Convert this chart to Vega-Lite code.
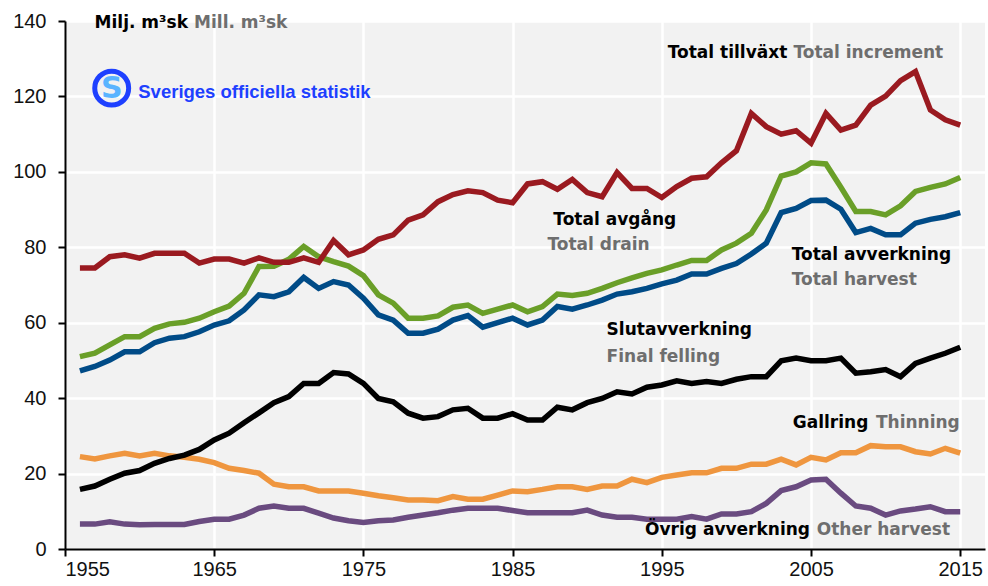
{
  "$schema": "https://vega.github.io/schema/vega-lite/v6.json",
  "width": 920,
  "height": 528,
  "autosize": {"type": "none"},
  "padding": {"left": 65, "top": 21, "right": 3, "bottom": 37},
  "background": "white",
  "config": {"view": {"fill": "#f2f2f2", "stroke": null}, "font": "Liberation Sans"},
  "datasets": {
    "series": [
      {"year":1956,"inc":74.5,"drain":51.0,"harv":47.2,"final":15.8,"thin":24.5,"other":6.6},
      {"year":1957,"inc":74.5,"drain":51.9,"harv":48.4,"final":16.7,"thin":23.9,"other":6.6},
      {"year":1958,"inc":77.5,"drain":54.1,"harv":50.1,"final":18.5,"thin":24.7,"other":7.2},
      {"year":1959,"inc":78.0,"drain":56.3,"harv":52.3,"final":20.1,"thin":25.4,"other":6.6},
      {"year":1960,"inc":77.1,"drain":56.3,"harv":52.3,"final":20.8,"thin":24.7,"other":6.4},
      {"year":1961,"inc":78.4,"drain":58.5,"harv":54.7,"final":22.7,"thin":25.4,"other":6.5},
      {"year":1962,"inc":78.4,"drain":59.7,"harv":55.9,"final":24.0,"thin":24.7,"other":6.5},
      {"year":1963,"inc":78.4,"drain":60.1,"harv":56.3,"final":24.9,"thin":24.3,"other":6.5},
      {"year":1964,"inc":75.8,"drain":61.2,"harv":57.6,"final":26.4,"thin":23.8,"other":7.3},
      {"year":1965,"inc":76.9,"drain":62.9,"harv":59.4,"final":28.9,"thin":22.9,"other":7.9},
      {"year":1966,"inc":76.9,"drain":64.4,"harv":60.5,"final":30.7,"thin":21.4,"other":7.9},
      {"year":1967,"inc":75.8,"drain":67.8,"harv":63.4,"final":33.5,"thin":20.8,"other":9.0},
      {"year":1968,"inc":77.2,"drain":74.9,"harv":67.4,"final":36.1,"thin":20.1,"other":10.8},
      {"year":1969,"inc":76.0,"drain":75.0,"harv":66.9,"final":38.8,"thin":17.2,"other":11.4},
      {"year":1970,"inc":76.0,"drain":76.8,"harv":68.2,"final":40.4,"thin":16.5,"other":10.8},
      {"year":1971,"inc":77.2,"drain":80.2,"harv":72.0,"final":43.9,"thin":16.5,"other":10.8},
      {"year":1972,"inc":76.0,"drain":77.5,"harv":69.1,"final":43.9,"thin":15.4,"other":9.5},
      {"year":1973,"inc":81.8,"drain":76.2,"harv":70.9,"final":46.8,"thin":15.4,"other":8.2},
      {"year":1974,"inc":78.0,"drain":75.0,"harv":70.0,"final":46.4,"thin":15.4,"other":7.5},
      {"year":1975,"inc":79.3,"drain":72.5,"harv":66.5,"final":43.9,"thin":14.8,"other":7.0},
      {"year":1976,"inc":82.1,"drain":67.4,"harv":62.1,"final":39.9,"thin":14.1,"other":7.5},
      {"year":1977,"inc":83.3,"drain":65.2,"harv":60.7,"final":39.0,"thin":13.6,"other":7.7},
      {"year":1978,"inc":87.2,"drain":61.2,"harv":57.2,"final":36.0,"thin":13.0,"other":8.4},
      {"year":1979,"inc":88.6,"drain":61.2,"harv":57.2,"final":34.7,"thin":13.0,"other":9.0},
      {"year":1980,"inc":92.1,"drain":61.8,"harv":58.3,"final":35.1,"thin":12.8,"other":9.6},
      {"year":1981,"inc":94.0,"drain":64.1,"harv":60.7,"final":36.9,"thin":13.9,"other":10.3},
      {"year":1982,"inc":95.0,"drain":64.7,"harv":61.9,"final":37.3,"thin":13.2,"other":10.8},
      {"year":1983,"inc":94.5,"drain":62.5,"harv":58.8,"final":34.7,"thin":13.2,"other":10.8},
      {"year":1984,"inc":92.5,"drain":63.6,"harv":60.0,"final":34.7,"thin":14.3,"other":10.8},
      {"year":1985,"inc":91.8,"drain":64.7,"harv":61.2,"final":35.9,"thin":15.4,"other":10.2},
      {"year":1986,"inc":96.8,"drain":62.9,"harv":59.4,"final":34.2,"thin":15.2,"other":9.6},
      {"year":1987,"inc":97.4,"drain":64.3,"harv":60.7,"final":34.2,"thin":15.8,"other":9.6},
      {"year":1988,"inc":95.4,"drain":67.6,"harv":64.3,"final":37.6,"thin":16.5,"other":9.6},
      {"year":1989,"inc":98.0,"drain":67.2,"harv":63.6,"final":36.9,"thin":16.5,"other":9.6},
      {"year":1990,"inc":94.5,"drain":67.8,"harv":64.7,"final":38.8,"thin":15.8,"other":10.3},
      {"year":1991,"inc":93.4,"drain":69.1,"harv":66.0,"final":39.9,"thin":16.7,"other":9.0},
      {"year":1992,"inc":99.8,"drain":70.6,"harv":67.6,"final":41.7,"thin":16.7,"other":8.4},
      {"year":1993,"inc":95.6,"drain":71.9,"harv":68.2,"final":41.1,"thin":18.5,"other":8.4},
      {"year":1994,"inc":95.6,"drain":73.1,"harv":69.1,"final":42.9,"thin":17.6,"other":7.9},
      {"year":1995,"inc":93.2,"drain":74.0,"harv":70.3,"final":43.5,"thin":19.0,"other":7.9},
      {"year":1996,"inc":96.1,"drain":75.3,"harv":71.3,"final":44.6,"thin":19.6,"other":7.9},
      {"year":1997,"inc":98.3,"drain":76.5,"harv":72.9,"final":43.9,"thin":20.2,"other":8.6},
      {"year":1998,"inc":98.7,"drain":76.5,"harv":72.9,"final":44.4,"thin":20.2,"other":7.9},
      {"year":1999,"inc":102.4,"drain":79.3,"harv":74.4,"final":43.9,"thin":21.4,"other":9.3},
      {"year":2000,"inc":105.6,"drain":81.1,"harv":75.7,"final":45.0,"thin":21.4,"other":9.3},
      {"year":2001,"inc":115.5,"drain":83.7,"harv":78.2,"final":45.7,"thin":22.5,"other":9.9},
      {"year":2002,"inc":112.0,"drain":89.9,"harv":81.1,"final":45.7,"thin":22.5,"other":12.1},
      {"year":2003,"inc":110.0,"drain":98.9,"harv":89.2,"final":49.9,"thin":23.8,"other":15.5},
      {"year":2004,"inc":110.9,"drain":100.0,"harv":90.3,"final":50.6,"thin":22.3,"other":16.5},
      {"year":2005,"inc":107.6,"drain":102.4,"harv":92.4,"final":49.9,"thin":24.3,"other":18.3},
      {"year":2006,"inc":115.5,"drain":102.1,"harv":92.5,"final":49.9,"thin":23.6,"other":18.5},
      {"year":2007,"inc":111.1,"drain":95.9,"harv":90.1,"final":50.6,"thin":25.5,"other":14.8},
      {"year":2008,"inc":112.4,"drain":89.5,"harv":83.9,"final":46.6,"thin":25.5,"other":11.4},
      {"year":2009,"inc":117.7,"drain":89.5,"harv":85.0,"final":47.0,"thin":27.4,"other":10.8},
      {"year":2010,"inc":120.1,"drain":88.6,"harv":83.3,"final":47.6,"thin":27.1,"other":9.0},
      {"year":2011,"inc":124.2,"drain":91.0,"harv":83.3,"final":45.7,"thin":27.1,"other":10.1},
      {"year":2012,"inc":126.6,"drain":94.8,"harv":86.4,"final":49.2,"thin":25.8,"other":10.6},
      {"year":2013,"inc":116.4,"drain":95.9,"harv":87.4,"final":50.6,"thin":25.2,"other":11.2},
      {"year":2014,"inc":113.8,"drain":96.8,"harv":88.1,"final":51.9,"thin":26.7,"other":9.9},
      {"year":2015,"inc":112.4,"drain":98.5,"harv":89.2,"final":53.5,"thin":25.4,"other":9.9}
    ],
    "labels": [
      {"x":2003.41,"y":131.4,"t":"Total tillväxt","k":"br"},
      {"x":2008.84,"y":33.3,"t":"Gallring","k":"br"},
      {"x":2004.93,"y":5.0,"t":"Övrig avverkning","k":"br"},
      {"x":1963.24,"y":139.4,"t":"Milj. m³sk","k":"br"},
      {"x":2003.82,"y":131.4,"t":"Total increment","k":"gl"},
      {"x":2009.35,"y":33.3,"t":"Thinning","k":"gl"},
      {"x":2005.38,"y":5.0,"t":"Other harvest","k":"gl"},
      {"x":1963.65,"y":139.4,"t":"Mill. m³sk","k":"gl"},
      {"x":1987.33,"y":80.6,"t":"Total drain","k":"gl"},
      {"x":2003.7,"y":71.3,"t":"Total harvest","k":"gl"},
      {"x":1991.3,"y":51.0,"t":"Final felling","k":"gl"},
      {"x":1987.73,"y":87.2,"t":"Total avgång","k":"bl"},
      {"x":2003.7,"y":78.0,"t":"Total avverkning","k":"bl"},
      {"x":1991.3,"y":58.1,"t":"Slutavverkning","k":"bl"},
      {"x":1959.91,"y":121.3,"t":"Sveriges officiella statistik","k":"logo"},
      {"x":1958.13,"y":122.2,"t":"S","k":"ring"}
    ]
  },
  "layer": [
    {
      "data": {"name": "series"},
      "transform": [{"fold": ["other","thin","final","harv","drain","inc"], "as": ["s","v"]}],
      "mark": {"type": "line", "strokeWidth": 5.5, "strokeCap": "butt"},
      "encoding": {
        "x": {"field": "year", "type": "quantitative",
          "scale": {"domain": [1955, 2016.66], "nice": false, "zero": false},
          "axis": {"values": [1955,1965,1975,1985,1995,2005,2015], "format": "d", "title": null,
            "grid": true, "gridColor": "white", "gridWidth": 2.5, "gridOpacity": 1,
            "domainColor": "black", "domainWidth": 2, "tickColor": "black", "tickWidth": 2, "tickSize": 7,
            "labelFontSize": 20, "labelColor": "#111", "labelPadding": 3, "labelFont": "Liberation Sans"}},
        "y": {"field": "v", "type": "quantitative",
          "scale": {"domain": [0, 140], "nice": false},
          "axis": {"values": [0,20,40,60,80,100,120,140], "title": null,
            "grid": true, "gridColor": "white", "gridWidth": 2.5, "gridOpacity": 1,
            "domainColor": "black", "domainWidth": 2, "tickColor": "black", "tickWidth": 2, "tickSize": 7,
            "labelFontSize": 20, "labelColor": "#111", "labelPadding": 12, "labelFont": "Liberation Sans"}},
        "color": {"field": "s", "type": "nominal",
          "scale": {"domain": ["other","thin","final","harv","drain","inc"],
                    "range": ["#6a4b80","#ef963f","#000000","#004b87","#6a9f28","#9a1a20"]},
          "legend": null}
      }
    },
    {
      "data": {"name": "labels"},
      "transform": [{"filter": "datum.k === 'br'"}],
      "mark": {"type": "text", "align": "right", "baseline": "middle", "font": "DejaVu Sans", "fontSize": 17, "fontWeight": "bold", "color": "#000000"},
      "encoding": {
        "x": {"field": "x", "type": "quantitative", "scale": {"domain": [1955, 2016.66], "nice": false, "zero": false}},
        "y": {"field": "y", "type": "quantitative", "scale": {"domain": [0, 140], "nice": false}},
        "text": {"field": "t"}
      }
    },
    {
      "data": {"name": "labels"},
      "transform": [{"filter": "datum.k === 'bl'"}],
      "mark": {"type": "text", "align": "left", "baseline": "middle", "font": "DejaVu Sans", "fontSize": 17, "fontWeight": "bold", "color": "#000000"},
      "encoding": {
        "x": {"field": "x", "type": "quantitative", "scale": {"domain": [1955, 2016.66], "nice": false, "zero": false}},
        "y": {"field": "y", "type": "quantitative", "scale": {"domain": [0, 140], "nice": false}},
        "text": {"field": "t"}
      }
    },
    {
      "data": {"name": "labels"},
      "transform": [{"filter": "datum.k === 'gl'"}],
      "mark": {"type": "text", "align": "left", "baseline": "middle", "font": "DejaVu Sans", "fontSize": 17, "fontWeight": "bold", "color": "#6e6e6e"},
      "encoding": {
        "x": {"field": "x", "type": "quantitative", "scale": {"domain": [1955, 2016.66], "nice": false, "zero": false}},
        "y": {"field": "y", "type": "quantitative", "scale": {"domain": [0, 140], "nice": false}},
        "text": {"field": "t"}
      }
    },
    {
      "data": {"name": "labels"},
      "transform": [{"filter": "datum.k === 'logo'"}],
      "mark": {"type": "text", "align": "left", "baseline": "middle", "font": "Liberation Sans", "fontSize": 18.5, "fontWeight": "bold", "color": "#1e40ff"},
      "encoding": {
        "x": {"field": "x", "type": "quantitative", "scale": {"domain": [1955, 2016.66], "nice": false, "zero": false}},
        "y": {"field": "y", "type": "quantitative", "scale": {"domain": [0, 140], "nice": false}},
        "text": {"field": "t"}
      }
    },
    {
      "data": {"name": "labels"},
      "transform": [{"filter": "datum.k === 'ring'"}],
      "mark": {"type": "point", "shape": "circle", "size": 1150, "filled": false, "stroke": "#1e40ff", "strokeWidth": 5, "opacity": 1},
      "encoding": {
        "x": {"field": "x", "type": "quantitative", "scale": {"domain": [1955, 2016.66], "nice": false, "zero": false}},
        "y": {"field": "y", "type": "quantitative", "scale": {"domain": [0, 140], "nice": false}}
      }
    },
    {
      "data": {"name": "labels"},
      "transform": [{"filter": "datum.k === 'ring'"}],
      "mark": {"type": "text", "align": "center", "baseline": "middle", "font": "DejaVu Sans", "fontSize": 30, "fontWeight": "bold", "color": "#5ab4ff", "dy": 1},
      "encoding": {
        "x": {"field": "x", "type": "quantitative", "scale": {"domain": [1955, 2016.66], "nice": false, "zero": false}},
        "y": {"field": "y", "type": "quantitative", "scale": {"domain": [0, 140], "nice": false}},
        "text": {"field": "t"}
      }
    }
  ]
}
